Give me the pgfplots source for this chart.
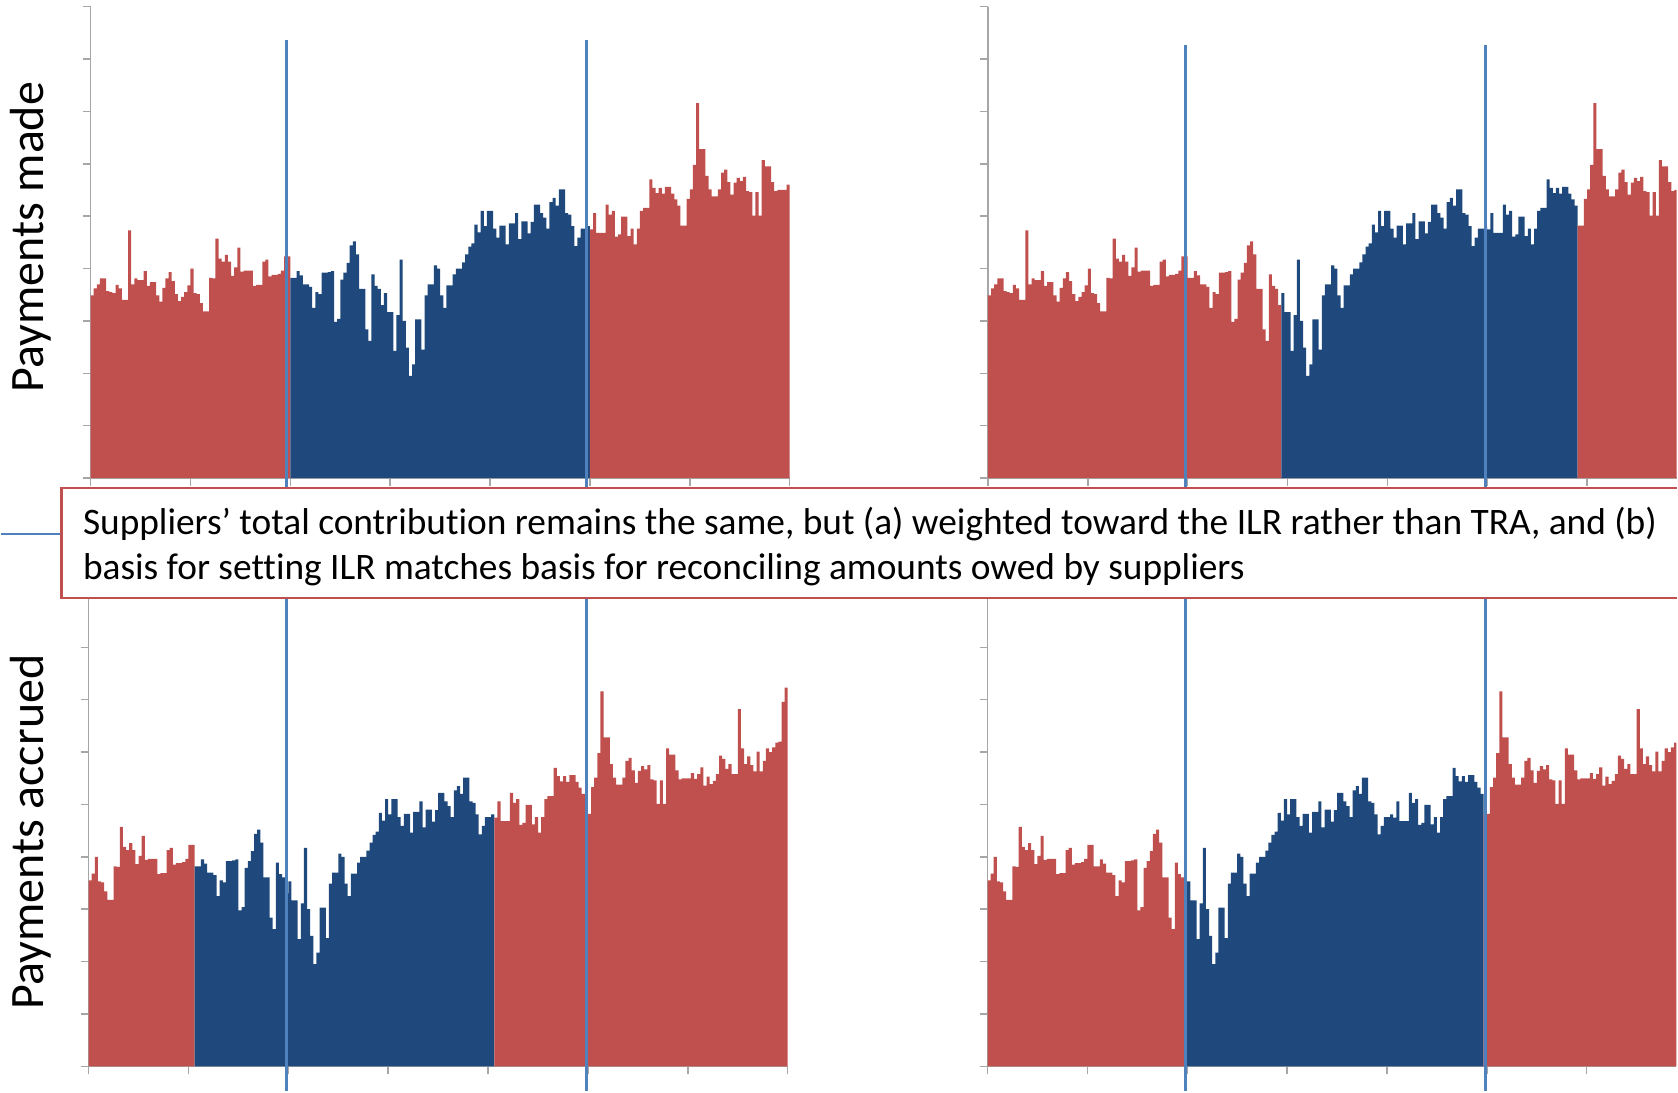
\documentclass[border=0pt]{standalone}
\usepackage{fontspec}
\setmainfont{Carlito}[Ligatures={NoCommon}]
\usepackage{pgfplots}
\usepackage{pgfplotstable}
\pgfplotsset{compat=1.18}

\definecolor{barred}{HTML}{C0504D}
\definecolor{barblue}{HTML}{1F497D}
\definecolor{guide}{HTML}{4F81BD}
\definecolor{axisgray}{HTML}{A6A6A6}

% Payments made, one value per period (last row closes the final step)
\pgfplotstableread{
v
3.49
3.62
3.70
3.81
3.81
3.57
3.55
3.53
3.69
3.62
3.40
3.40
4.73
3.70
3.81
3.78
3.78
3.95
3.67
3.74
3.74
3.49
3.37
3.63
3.81
3.93
3.76
3.51
3.38
3.46
3.55
3.68
4.00
3.53
3.51
3.34
3.18
3.18
3.82
3.81
4.57
4.19
4.13
4.26
4.13
3.86
4.02
4.40
3.94
3.96
3.96
3.96
3.67
3.69
3.69
4.13
4.17
3.85
3.88
3.88
3.90
3.96
4.23
4.23
3.82
3.82
3.95
3.87
3.70
3.70
3.65
3.25
3.55
3.51
3.92
3.92
3.93
3.95
2.98
3.04
3.79
3.92
4.11
4.44
4.52
4.27
3.61
3.61
2.84
2.62
3.89
3.67
3.61
3.30
3.53
3.17
3.17
2.43
3.11
4.17
3.00
2.49
1.95
2.17
3.03
3.03
2.45
3.49
3.70
3.70
4.06
4.00
3.49
3.25
3.68
3.68
3.89
4.00
4.00
4.12
4.27
4.42
4.48
4.84
4.69
5.10
4.81
5.10
5.10
4.76
4.59
4.82
4.82
4.46
4.86
4.86
5.06
4.56
4.90
4.90
4.67
4.89
5.22
5.22
5.06
4.97
4.76
5.27
5.35
5.20
5.51
5.51
5.06
5.03
4.81
4.43
4.59
4.76
4.76
4.81
4.75
5.06
4.68
4.68
4.68
5.22
5.03
5.10
4.61
4.65
4.99
4.99
4.62
4.76
4.46
4.76
5.10
5.16
5.16
5.70
5.54
5.44
5.54
5.43
5.56
5.56
5.43
5.32
5.20
4.82
4.82
5.33
5.51
5.98
7.16
6.28
6.28
5.77
5.51
5.38
5.38
5.51
5.83
5.89
5.65
5.41
5.64
5.73
5.67
5.75
5.48
5.46
5.01
5.46
5.01
6.07
5.95
5.95
5.65
5.48
5.50
5.50
5.50
5.60
5.60
}\made

% Payments accrued, one value per period (last row closes the final step)
\pgfplotstableread{
v
3.55
3.68
4.00
3.53
3.51
3.34
3.18
3.18
3.82
3.81
4.57
4.19
4.13
4.26
4.13
3.86
4.02
4.40
3.94
3.96
3.96
3.96
3.67
3.69
3.69
4.13
4.17
3.85
3.88
3.88
3.90
3.96
4.23
4.23
3.82
3.82
3.95
3.87
3.70
3.70
3.65
3.25
3.55
3.51
3.92
3.92
3.93
3.95
2.98
3.04
3.79
3.92
4.11
4.44
4.52
4.27
3.61
3.61
2.84
2.62
3.89
3.67
3.61
3.30
3.53
3.17
3.17
2.43
3.11
4.17
3.00
2.49
1.95
2.17
3.03
3.03
2.45
3.49
3.70
3.70
4.06
4.00
3.49
3.25
3.68
3.68
3.89
4.00
4.00
4.12
4.27
4.42
4.48
4.84
4.69
5.10
4.81
5.10
5.10
4.76
4.59
4.82
4.82
4.46
4.86
4.86
5.06
4.56
4.90
4.90
4.67
4.89
5.22
5.22
5.06
4.97
4.76
5.27
5.35
5.20
5.51
5.51
5.06
5.03
4.81
4.43
4.59
4.76
4.76
4.81
4.75
5.06
4.68
4.68
4.68
5.22
5.03
5.10
4.61
4.65
4.99
4.99
4.62
4.76
4.46
4.76
5.10
5.16
5.16
5.70
5.54
5.44
5.54
5.43
5.56
5.56
5.43
5.32
5.20
4.82
4.82
5.33
5.51
5.98
7.16
6.28
6.28
5.77
5.51
5.38
5.38
5.51
5.83
5.89
5.65
5.41
5.64
5.73
5.67
5.75
5.48
5.46
5.01
5.46
5.01
6.07
5.95
5.95
5.65
5.48
5.50
5.50
5.50
5.60
5.49
5.58
5.71
5.36
5.53
5.39
5.45
5.58
5.93
5.87
5.68
5.77
5.58
5.58
6.82
6.07
5.77
5.92
5.75
5.63
6.01
5.63
5.83
6.07
6.00
6.09
6.18
6.20
6.96
7.23
7.23
}\accrued

\pgfplotsset{
  panel/.style={
    scale only axis, height=236pt,
    ymin=0, ymax=9, xmin=0,
    axis x line=bottom, axis y line=left,
    axis line style={-, draw=axisgray, line width=0.75pt},
    xtick={0,32,...,224}, ytick={0,1,...,9},
    xticklabels={}, yticklabels={},
    tick align=outside, major tick length=4pt,
    tick style={draw=axisgray, line width=0.75pt},
    every axis y label/.style={rotate=90, anchor=base,
      font=\fontsize{24}{29}\selectfont},
  },
  % full period range on the left, cut at the page edge on the right
  leftpanel/.style={panel, width=350pt, xmax=224},
  rightpanel/.style={panel, width=344.8pt, xmax=220.7},
  bars/.style={const plot mark left, draw=none, fill=#1, mark=none},
  guide/.style={draw=guide, line width=1.6pt, mark=none},
}

\begin{document}
\begin{tikzpicture}

% Payments made, left
\begin{axis}[leftpanel, at={(45pt,307pt)}, anchor=south west,
  ylabel={Payments made},
  ylabel style={at={(axis description cs:-0.0667,0.511)}}]
  \addplot[bars=barred, restrict x to domain=0:64]
    table[x expr=\coordindex, y=v] {\made} \closedcycle;
  \addplot[bars=barblue, restrict x to domain=64:160]
    table[x expr=\coordindex, y=v] {\made} \closedcycle;
  \addplot[bars=barred, restrict x to domain=160:224]
    table[x expr=\coordindex, y=v] {\made} \closedcycle;
\end{axis}

% Payments made, right
\begin{axis}[rightpanel, at={(494.2pt,307pt)}, anchor=south west]
  \addplot[bars=barred, restrict x to domain=0:94]
    table[x expr=\coordindex, y=v] {\made} \closedcycle;
  \addplot[bars=barblue, restrict x to domain=94:189]
    table[x expr=\coordindex, y=v] {\made} \closedcycle;
  \addplot[bars=barred, restrict x to domain=189:224]
    table[x expr=\coordindex, y=v] {\made} \closedcycle;
\end{axis}

% Payments accrued, left
\begin{axis}[leftpanel, at={(44pt,12.5pt)}, anchor=south west, clip=false,
  ylabel={Payments accrued},
  ylabel style={at={(axis description cs:-0.0643,0.497)}}]
  \addplot[bars=barred, restrict x to domain=0:34]
    table[x expr=\coordindex, y=v] {\accrued} \closedcycle;
  \addplot[bars=barblue, restrict x to domain=34:130]
    table[x expr=\coordindex, y=v] {\accrued} \closedcycle;
  \addplot[bars=barred, restrict x to domain=130:224]
    table[x expr=\coordindex, y=v] {\accrued} \closedcycle;
  % period boundaries, running through both rows
  \addplot[guide] coordinates {(63.5,-0.47) (63.5,19.6)};
  \addplot[guide] coordinates {(159.5,-0.47) (159.5,19.6)};
\end{axis}

% Payments accrued, right
\begin{axis}[rightpanel, at={(494pt,12.5pt)}, anchor=south west]
  \addplot[bars=barred, restrict x to domain=0:64]
    table[x expr=\coordindex, y=v] {\accrued} \closedcycle;
  \addplot[bars=barblue, restrict x to domain=64:159]
    table[x expr=\coordindex, y=v] {\accrued} \closedcycle;
  \addplot[bars=barred, restrict x to domain=159:224]
    table[x expr=\coordindex, y=v] {\accrued} \closedcycle;
\end{axis}
% period boundaries of the right column, in the same axis frame
\begin{axis}[rightpanel, at={(494pt,12.5pt)}, anchor=south west, clip=false,
  hide axis]
  \addplot[guide] coordinates {(63.5,-0.47) (63.5,19.5)};
  \addplot[guide] coordinates {(159.5,-0.47) (159.5,19.5)};
\end{axis}

% callout
\draw[guide, line width=0.7pt] (0pt,279pt) -- (30.5pt,279pt);
\fill[white] (30.5pt,247pt) rectangle (839pt,302pt);
\draw[draw=barred, line width=1.35pt] (839pt,302pt) -- (30.5pt,302pt) -- (30.5pt,247pt) -- (839pt,247pt);
\node[anchor=base west, inner sep=0pt, font=\fontsize{18.7}{22.5}\selectfont] at (41pt,278.5pt)
  {Suppliers’ total contribution remains the same, but (a) weighted toward the ILR rather than TRA, and (b)};
\node[anchor=base west, inner sep=0pt, font=\fontsize{18.7}{22.5}\selectfont] at (41pt,256pt)
  {basis for setting ILR matches basis for reconciling amounts owed by suppliers};
\end{tikzpicture}
\end{document}
